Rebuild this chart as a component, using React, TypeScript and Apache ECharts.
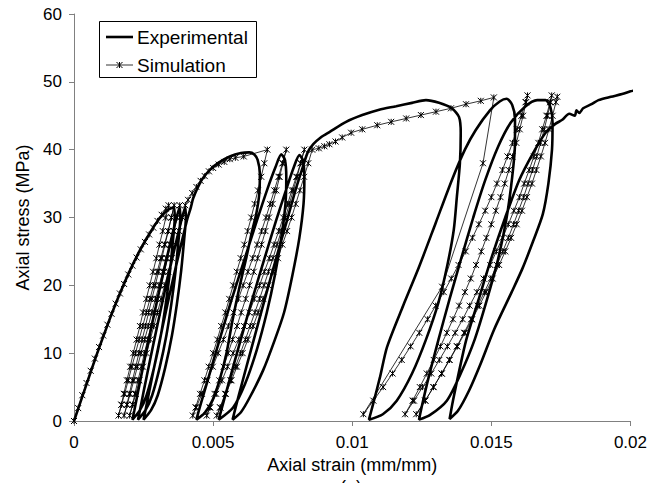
import React, { useEffect, useRef } from "react";
import * as echarts from "echarts";

type P = [number, number];

const X_TICKS = [0, 0.005, 0.01, 0.015, 0.02];
const Y_TICKS = [0, 10, 20, 30, 40, 50, 60];
const SERIES_NAMES = ["Experimental", "Simulation"];
const X_NAME = "Axial strain (mm/mm)";
const Y_NAME = "Axial stress (MPa)";

// ---------------- Experimental (strain, stress) ----------------
const expLoading1: P[] = [[0,0],[0.0004,4.8],[0.0008,9.6],[0.0012,14.1],[0.0016,18.3],[0.002,22.1],[0.0024,25.4],[0.0028,28.2],[0.0031,30.0],[0.0034,31.2],[0.0036,31.5]];
const expCycles1: P[] = [
  [0.00362,29.9],[0.00356,26.8],[0.00345,22.1],[0.0033,17.3],[0.00312,12.6],[0.00288,7.9],[0.00261,3.8],[0.00237,1.6],[0.0021,0.2],
  [0.00217,1.6],[0.00232,4.7],[0.00256,9.5],[0.0028,14.2],[0.00305,18.9],[0.00331,23.6],[0.00353,27.4],[0.00368,29.9],[0.0038,31.5],
  [0.00382,29.9],[0.00376,26.8],[0.00365,22.1],[0.0035,17.3],[0.00332,12.6],[0.00308,7.9],[0.00281,3.8],[0.00257,1.6],[0.0023,0.2],
  [0.00237,1.6],[0.00252,4.7],[0.00276,9.5],[0.003,14.2],[0.00325,18.9],[0.00351,23.6],[0.00373,27.4],[0.00388,29.9],[0.004,31.5],
  [0.00402,29.9],[0.00396,26.8],[0.00385,22.1],[0.0037,17.3],[0.00352,12.6],[0.00328,7.9],[0.00301,3.8],[0.00277,1.6],[0.0025,0.2],
  [0.00257,1.6],[0.00272,4.7],[0.00296,9.5],[0.0032,14.2],[0.00345,18.9],[0.00371,23.6],[0.00393,27.4],[0.00408,29.9],[0.0042,31.5],
];
const expEnvelope2: P[] = [[0.00428,32.8],[0.0044,34],[0.0046,35.6],[0.0049,37.1],[0.0052,38.1],[0.0056,39],[0.006,39.5],[0.0063,39.6],[0.00648,39.3],[0.0066,38.5]];
const expCycles2: P[] = [
  [0.00668,36.5],[0.00666,33.5],[0.00655,30.5],[0.0064,28],[0.0062,24.2],[0.00595,19.8],[0.0057,14.9],[0.00548,10],[0.00523,6],[0.00498,3.1],[0.0047,1.2],[0.0044,0.2],
  [0.00452,2],[0.0048,5.9],[0.00522,11.8],[0.00565,17.7],[0.00611,23.6],[0.00657,29.5],[0.00696,34.3],[0.00724,37.4],[0.00745,39.3],
  [0.00758,38.5],[0.00763,36],[0.0076,32],[0.00745,27],[0.00722,21.5],[0.00693,16],[0.00657,10.5],[0.00615,5.5],[0.00572,2],[0.0052,0.2],
  [0.00532,2],[0.00558,5.9],[0.00598,11.8],[0.00639,17.7],[0.00682,23.6],[0.00726,29.5],[0.00764,34.3],[0.0079,37.4],[0.0081,39.2],
  [0.00822,38.5],[0.00828,36],[0.00825,32],[0.0081,27],[0.00785,21.5],[0.00755,16],[0.00722,12],[0.0068,7.5],[0.00632,3.5],[0.006,1.3],[0.0057,0.2],
  [0.00581,2],[0.00606,5.9],[0.00645,11.8],[0.00684,17.7],[0.00724,23.6],[0.00765,29.5],[0.00798,34.3],[0.00822,37.4],[0.0084,39.6],
];
const expEnvelope3: P[] = [[0.0086,40.8],[0.0089,41.9],[0.00918,42.6],[0.00978,44.1],[0.01036,45.1],[0.01097,45.9],[0.01158,46.4],[0.01215,46.9],[0.01265,47.3],[0.01312,46.9],[0.01358,46.1],[0.01384,44.8]];
const expCycles3: P[] = [
  [0.0139,42.5],[0.01387,38],[0.01376,33],[0.01365,28.2],[0.01342,23],[0.0131,17.5],[0.01265,12],[0.01215,7],[0.0116,3],[0.0111,1],[0.0106,0.2],
  [0.01075,2.5],[0.011,6.5],[0.01125,10.9],[0.01183,17],[0.0124,22.7],[0.013,29.2],[0.01358,35.5],[0.01405,40],[0.01444,42.9],[0.01495,45.8],[0.0153,47.1],[0.01555,47.5],
  [0.01575,46.6],[0.01585,44.5],[0.01585,41],[0.01575,36],[0.01555,30],[0.01525,24],[0.01485,18],[0.0144,12],[0.0139,7],[0.0134,3],[0.0128,0.9],[0.0124,0.2],
  [0.01252,2.5],[0.01275,6.5],[0.0131,12],[0.0135,18],[0.01392,24],[0.01435,30],[0.01478,35.5],[0.01525,40.5],[0.0157,44],[0.0162,46.3],[0.01665,47.3],[0.01695,47.3],
  [0.01712,46.3],[0.0172,44],[0.01718,40],[0.01705,35],[0.01685,30.5],[0.0165,26.5],[0.01612,22.5],[0.01573,19],[0.0151,13.5],[0.0146,8.3],[0.0142,4.5],[0.0138,1.5],[0.0135,0.3],
];
const expFinal: P[] = [[0.01362,3],[0.01385,7.5],[0.0141,12],[0.01455,18],[0.015,24],[0.0155,30],[0.016,35.5],[0.0165,39.5],[0.01695,42.5],[0.0173,43.8],[0.01755,44.4],[0.0178,45.3],[0.018,45.0],[0.01806,45.8],[0.01816,45.4],[0.0183,46.1],[0.0186,46.7],[0.01885,47.3],[0.0193,47.8],[0.0197,48.2],[0.02,48.6],[0.0201,48.7]];

// ---------------- Simulation (strain, stress) ----------------
const simLoading1: P[] = [[0,0],[0.00015,1.9],[0.0003,3.8],[0.00045,5.6],[0.0006,7.4],[0.00075,9.2],[0.0009,10.9],[0.00105,12.6],[0.0012,14.2],[0.00135,15.8],[0.0015,17.3],[0.00165,18.8],[0.0018,20.2],[0.00195,21.6],[0.0021,22.9],[0.00225,24.1],[0.0024,25.3],[0.00255,26.4],[0.0027,27.5],[0.00285,28.5],[0.003,29.5],[0.00315,30.4],[0.0033,31.3],[0.0034,31.8]];
const simCycles1: P[] = [
  [0.0033,30],[0.00319,28],[0.00307,26],[0.00296,24],[0.00284,22],[0.00272,20],[0.0026,18],[0.00248,16],[0.00237,14],[0.00225,12],[0.00213,10],[0.00202,8],[0.0019,6],[0.00179,4],[0.0017,2.4],[0.0016,0.8],
  [0.00171,2.4],[0.00182,4],[0.00195,6],[0.00208,8],[0.00221,10],[0.00234,12],[0.00247,14],[0.0026,16],[0.00273,18],[0.00286,20],[0.00299,22],[0.00312,24],[0.00325,26],[0.00338,28],[0.0035,30],[0.0036,31.8],
  [0.0035,30],[0.00339,28],[0.00327,26],[0.00316,24],[0.00304,22],[0.00292,20],[0.0028,18],[0.00268,16],[0.00257,14],[0.00245,12],[0.00233,10],[0.00222,8],[0.0021,6],[0.00199,4],[0.0019,2.4],[0.0018,0.8],
  [0.00191,2.4],[0.00202,4],[0.00215,6],[0.00228,8],[0.00241,10],[0.00254,12],[0.00267,14],[0.0028,16],[0.00293,18],[0.00306,20],[0.00319,22],[0.00332,24],[0.00345,26],[0.00358,28],[0.0037,30],[0.0038,31.8],
  [0.0037,30],[0.00359,28],[0.00347,26],[0.00336,24],[0.00324,22],[0.00312,20],[0.003,18],[0.00288,16],[0.00277,14],[0.00265,12],[0.00253,10],[0.00242,8],[0.0023,6],[0.00219,4],[0.0021,2.4],[0.002,0.8],
  [0.00211,2.4],[0.00222,4],[0.00235,6],[0.00248,8],[0.00261,10],[0.00274,12],[0.00287,14],[0.003,16],[0.00313,18],[0.00326,20],[0.00339,22],[0.00352,24],[0.00365,26],[0.00378,28],[0.0039,30],[0.004,31.8],
];
const simEnvelope2: P[] = [[0.0041,32.6],[0.00425,33.6],[0.0044,34.5],[0.00455,35.4],[0.0047,36.1],[0.00485,36.8],[0.005,37.3],[0.0052,37.8],[0.0054,38.2],[0.0056,38.6],[0.0058,38.8],[0.0061,39.0],[0.00695,40.0]];
const simCycles2: P[] = [
  [0.00684,38],[0.00673,36],[0.00661,34],[0.00649,32],[0.00637,30],[0.00624,28],[0.00612,26],[0.00599,24],[0.00585,22],[0.00572,20],[0.00558,18],[0.00544,16],[0.00529,14],[0.00515,12],[0.005,10],[0.00484,8],[0.00469,6],[0.00453,4],[0.00437,2],[0.00427,0.8],
  [0.00439,2],[0.0046,4],[0.00479,6],[0.00499,8],[0.00518,10],[0.00537,12],[0.00555,14],[0.00573,16],[0.00591,18],[0.00608,20],[0.00625,22],[0.00642,24],[0.00658,26],[0.00674,28],[0.0069,30],[0.00705,32],[0.0072,34],[0.00735,36],[0.00749,38],[0.00763,40],
  [0.00751,38],[0.00739,36],[0.00727,34],[0.00714,32],[0.00701,30],[0.00688,28],[0.00674,26],[0.0066,24],[0.00646,22],[0.00631,20],[0.00617,18],[0.00601,16],[0.00586,14],[0.0057,12],[0.00554,10],[0.00538,8],[0.00522,6],[0.00505,4],[0.00487,2],[0.00477,0.8],
  [0.0049,2],[0.00511,4],[0.00532,6],[0.00552,8],[0.00572,10],[0.00592,12],[0.00611,14],[0.0063,16],[0.00648,18],[0.00667,20],[0.00684,22],[0.00702,24],[0.00719,26],[0.00736,28],[0.00752,30],[0.00768,32],[0.00783,34],[0.00799,36],[0.00814,38],[0.00828,40],
  [0.00815,38],[0.00802,36],[0.00788,34],[0.00774,32],[0.0076,30],[0.00745,28],[0.0073,26],[0.00715,24],[0.00699,22],[0.00683,20],[0.00667,18],[0.0065,16],[0.00633,14],[0.00616,12],[0.00598,10],[0.0058,8],[0.00562,6],[0.00543,4],[0.00525,2],[0.00513,0.8],
  [0.00526,2],[0.00546,4],[0.00566,6],[0.00586,8],[0.00606,10],[0.00625,12],[0.00644,14],[0.00662,16],[0.0068,18],[0.00698,20],[0.00716,22],[0.00733,24],[0.00749,26],[0.00766,28],[0.00782,30],[0.00797,32],[0.00812,34],[0.00827,36],[0.00842,38],[0.00856,40],
];
const simEnvelope3: P[] = [[0.0088,40.2],[0.009,40.5],[0.00918,40.8],[0.0094,41.2],[0.00964,41.8],[0.00996,42.5],[0.01036,43.0],[0.0109,43.6],[0.0114,44.1],[0.01194,44.6],[0.01247,45.1],[0.01301,45.6],[0.01355,46.1],[0.01409,46.7],[0.01462,47.2],[0.01509,47.7]];
const simCycles3: P[] = [
  [0.0147,38],[0.01323,19.8],[0.0104,1.0],
  [0.01076,3],[0.01111,5],[0.01145,7],[0.01178,9],[0.0121,11],[0.01241,13],[0.01271,15],[0.013,17],[0.01329,19],[0.01356,21],[0.01382,23],[0.01408,25],[0.01432,27],[0.01455,29],[0.01478,31],[0.015,33],[0.0152,35],[0.0154,37],[0.01558,39],[0.01576,41],[0.01592,43],[0.01608,45],[0.01623,47],[0.0163,48],
  [0.01625,47],[0.01614,45],[0.01602,43],[0.0159,41],[0.01576,39],[0.01563,37],[0.01548,35],[0.01533,33],[0.01516,31],[0.015,29],[0.01482,27],[0.01464,25],[0.01445,23],[0.01426,21],[0.01405,19],[0.01384,17],[0.01362,15],[0.0134,13],[0.01317,11],[0.01293,9],[0.01268,7],[0.01243,5],[0.01217,3],[0.0119,1],
  [0.01222,3],[0.01253,5],[0.01284,7],[0.01313,9],[0.01342,11],[0.0137,13],[0.01397,15],[0.01422,17],[0.01448,19],[0.01472,21],[0.01496,23],[0.01518,25],[0.0154,27],[0.01561,29],[0.01581,31],[0.01601,33],[0.01618,35],[0.01636,37],[0.01653,39],[0.01669,41],[0.01683,43],[0.01698,45],[0.01711,47],[0.01717,48],
  [0.01713,47],[0.01702,45],[0.0169,43],[0.01677,41],[0.01663,39],[0.01648,37],[0.01632,35],[0.01616,33],[0.01598,31],[0.0158,29],[0.01561,27],[0.01541,25],[0.0152,23],[0.01498,21],[0.01475,19],[0.01451,17],[0.01427,15],[0.01402,13],[0.01376,11],[0.01349,9],[0.01321,7],[0.01292,5],[0.01263,3],[0.0123,1],
  [0.01262,3],[0.01292,5],[0.01322,7],[0.0135,9],[0.01378,11],[0.01405,13],[0.01431,15],[0.01457,17],[0.01481,19],[0.01505,21],[0.01528,23],[0.0155,25],[0.01571,27],[0.01591,29],[0.0161,31],[0.01628,33],[0.01646,35],[0.01662,37],[0.01678,39],[0.01693,41],[0.01707,43],[0.0172,45],[0.01732,47],[0.01737,47.8],
];

const expData: P[] = [...expLoading1, ...expCycles1, ...expEnvelope2, ...expCycles2, ...expEnvelope3, ...expCycles3, ...expFinal];
const simData: P[] = [...simLoading1, ...simCycles1, ...simEnvelope2, ...simCycles2, ...simEnvelope3, ...simCycles3];

const FONT = "'Liberation Sans', Arial, sans-serif";
const STAR = "path://M0,0L10,10M10,0L0,10M5,0L5,10";

export default function App() {
  const ref = useRef<HTMLDivElement>(null);
  useEffect(() => {
    if (!ref.current) return;
    const chart = echarts.init(ref.current, null, { renderer: "svg" });
    const axisGray = "#808080";
    chart.setOption({
      animation: false,
      backgroundColor: "#ffffff",
      grid: { left: 74, top: 14, right: 18, bottom: 62, containLabel: false },
      xAxis: {
        type: "value",
        min: X_TICKS[0],
        max: X_TICKS[X_TICKS.length - 1],
        interval: X_TICKS[1] - X_TICKS[0],
        name: X_NAME,
        nameLocation: "middle",
        nameGap: 33,
        nameTextStyle: { fontFamily: FONT, fontSize: 18, color: "#000" },
        axisLine: { show: true, onZero: false, lineStyle: { color: axisGray, width: 1 } },
        axisTick: { show: true, inside: false, length: 5, lineStyle: { color: axisGray } },
        axisLabel: { fontFamily: FONT, fontSize: 17, color: "#000", margin: 13 },
        splitLine: { show: false },
      },
      yAxis: {
        type: "value",
        min: Y_TICKS[0],
        max: Y_TICKS[Y_TICKS.length - 1],
        interval: Y_TICKS[1] - Y_TICKS[0],
        name: Y_NAME,
        nameLocation: "middle",
        nameGap: 41,
        nameRotate: 90,
        nameTextStyle: { fontFamily: FONT, fontSize: 18, color: "#000" },
        axisLine: { show: true, onZero: false, lineStyle: { color: axisGray, width: 1 } },
        axisTick: { show: true, inside: false, length: 5, lineStyle: { color: axisGray } },
        axisLabel: { fontFamily: FONT, fontSize: 17, color: "#000", margin: 12 },
        splitLine: { show: false },
      },
      series: [
        {
          name: SERIES_NAMES[0],
          type: "line",
          data: expData,
          showSymbol: false,
          symbol: "none",
          smooth: 0.25,
          lineStyle: { color: "#000", width: 2.6 },
          z: 3,
        },
        {
          name: SERIES_NAMES[1],
          type: "line",
          data: simData,
          symbol: STAR,
          symbolSize: 6,
          showSymbol: true,
          showAllSymbol: true,
          lineStyle: { color: "#000", width: 0.8 },
          itemStyle: { color: "#000", borderColor: "#000", borderWidth: 1 },
          z: 4,
        },
      ],
      graphic: [
        {
          type: "group",
          z: 100,
          children: [
            { type: "rect", shape: { x: 99.5, y: 21.5, width: 157, height: 56 }, style: { fill: "#fff", stroke: "#000", lineWidth: 1 } },
            { type: "line", shape: { x1: 106, y1: 37, x2: 133, y2: 37 }, style: { stroke: "#000", lineWidth: 2.6 } },
            { type: "text", x: 137, y: 37, style: { text: SERIES_NAMES[0], fontFamily: FONT, fontSize: 19, fill: "#000", verticalAlign: "middle", textAlign: "left" } },
            { type: "line", shape: { x1: 106, y1: 65, x2: 133, y2: 65 }, style: { stroke: "#000", lineWidth: 0.8 } },
            { type: "line", shape: { x1: 116.5, y1: 62, x2: 122.5, y2: 68 }, style: { stroke: "#000", lineWidth: 1 } },
            { type: "line", shape: { x1: 122.5, y1: 62, x2: 116.5, y2: 68 }, style: { stroke: "#000", lineWidth: 1 } },
            { type: "line", shape: { x1: 119.5, y1: 62, x2: 119.5, y2: 68 }, style: { stroke: "#000", lineWidth: 1 } },
            { type: "text", x: 137, y: 65, style: { text: SERIES_NAMES[1], fontFamily: FONT, fontSize: 19, fill: "#000", verticalAlign: "middle", textAlign: "left" } },
          ],
        },
        { type: "text", x: 351, y: 478, style: { text: "(a)", fontFamily: FONT, fontSize: 18, fill: "#000", textAlign: "center", verticalAlign: "top" } },
      ],
    });
    return () => chart.dispose();
  }, []);
  return <div ref={ref} style={{ position: "fixed", left: 0, top: 0, width: 650, height: 483 }} />;
}
